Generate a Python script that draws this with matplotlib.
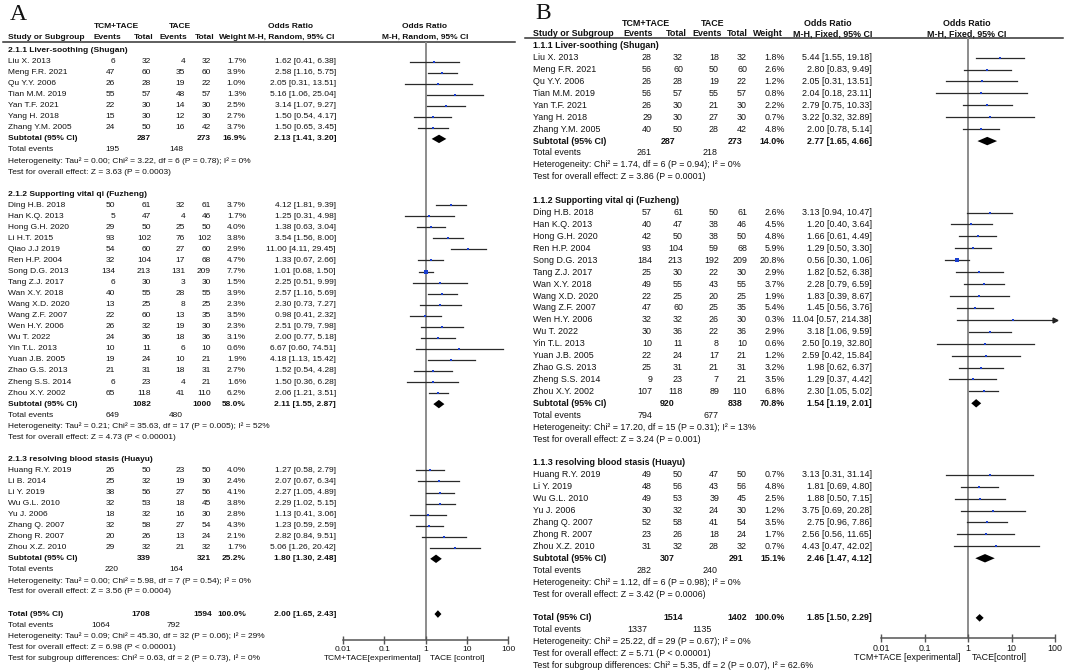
import numpy as np
import matplotlib
matplotlib.use('Agg')
import matplotlib.pyplot as plt
from matplotlib.ticker import NullLocator

W, H = 1065, 670
TXT = '#111111'
FONT = 'Liberation Sans'

# ---------------- panel A (M-H, Random) ----------------
a_groups = ['2.1.1 Liver-soothing (Shugan)', '2.1.2 Supporting vital qi (Fuzheng)',
            '2.1.3 resolving blood stasis (Huayu)']
a_sizes = [7, 18, 8]
a_study = ['Liu X. 2013', 'Meng F.R. 2021', 'Qu Y.Y. 2006', 'Tian M.M. 2019', 'Yan T.F. 2021',
           'Yang H. 2018', 'Zhang Y.M. 2005',
           'Ding H.B. 2018', 'Han K.Q. 2013', 'Hong G.H. 2020', 'Li H.T. 2015', 'Qiao J.J 2019',
           'Ren H.P. 2004', 'Song D.G. 2013', 'Tang Z.J. 2017', 'Wan X.Y. 2018', 'Wang X.D. 2020',
           'Wang Z.F. 2007', 'Wen H.Y. 2006', 'Wu T. 2022', 'Yin T.L. 2013', 'Yuan J.B. 2005',
           'Zhao G.S. 2013', 'Zheng S.S. 2014', 'Zhou X.Y. 2002',
           'Huang R.Y. 2019', 'Li B. 2014', 'Li Y. 2019', 'Wu G.L. 2010', 'Yu J. 2006',
           'Zhang Q. 2007', 'Zhong R. 2007', 'Zhou X.Z. 2010']
a_ev_t = [6, 47, 26, 55, 22, 15, 24,
          50, 5, 29, 93, 54, 32, 134, 6, 40, 13, 22, 26, 24, 10, 19, 21, 6, 65,
          26, 25, 38, 32, 18, 32, 20, 29]
a_n_t = [32, 60, 28, 57, 30, 30, 50,
         61, 47, 50, 102, 60, 104, 213, 30, 55, 25, 60, 32, 36, 11, 24, 31, 23, 118,
         50, 32, 56, 53, 32, 58, 26, 32]
a_ev_c = [4, 35, 19, 48, 14, 12, 16,
          32, 4, 25, 76, 27, 17, 131, 3, 28, 8, 13, 19, 18, 6, 10, 18, 4, 41,
          23, 19, 27, 18, 16, 27, 13, 21]
a_n_c = [32, 60, 22, 57, 30, 30, 42,
         61, 46, 50, 102, 60, 68, 209, 30, 55, 25, 35, 30, 36, 10, 21, 31, 21, 110,
         50, 30, 56, 45, 30, 54, 24, 32]
a_weight = [1.7, 3.9, 1.0, 1.3, 2.5, 2.7, 3.7,
            3.7, 1.7, 4.0, 3.8, 2.9, 4.7, 7.7, 1.5, 3.9, 2.3, 3.5, 2.3, 3.1, 0.6, 1.9, 2.7, 1.6, 6.2,
            4.0, 2.4, 4.1, 3.8, 2.8, 4.3, 2.1, 1.7]
a_or = [1.62, 2.58, 2.05, 5.16, 3.14, 1.50, 1.50,
        4.12, 1.25, 1.38, 3.54, 11.00, 1.33, 1.01, 2.25, 2.57, 2.30, 0.98, 2.51, 2.00, 6.67, 4.18,
        1.52, 1.50, 2.06,
        1.27, 2.07, 2.27, 2.29, 1.13, 1.23, 2.82, 5.06]
a_lo = [0.41, 1.16, 0.31, 1.06, 1.07, 0.54, 0.65,
        1.81, 0.31, 0.63, 1.56, 4.11, 0.67, 0.68, 0.51, 1.16, 0.73, 0.41, 0.79, 0.77, 0.60, 1.13,
        0.54, 0.36, 1.21,
        0.58, 0.67, 1.05, 1.02, 0.41, 0.59, 0.84, 1.26]
a_hi = [6.38, 5.75, 13.51, 25.04, 9.27, 4.17, 3.45,
        9.39, 4.98, 3.04, 8.00, 29.45, 2.66, 1.50, 9.99, 5.69, 7.27, 2.32, 7.98, 5.18, 74.51, 15.42,
        4.28, 6.28, 3.51,
        2.79, 6.34, 4.89, 5.15, 3.06, 2.59, 9.51, 20.42]
a_sub_n_t = [287, 1082, 339]
a_sub_n_c = [273, 1000, 321]
a_sub_weight = [16.9, 58.0, 25.2]
a_sub_or = [2.13, 2.11, 1.80]
a_sub_lo = [1.41, 1.55, 1.30]
a_sub_hi = [3.20, 2.87, 2.48]
a_sub_ev_t = [195, 649, 220]
a_sub_ev_c = [148, 480, 164]
a_het = ['Heterogeneity: Tau\u00b2 = 0.00; Chi\u00b2 = 3.22, df = 6 (P = 0.78); I\u00b2 = 0%',
         'Heterogeneity: Tau\u00b2 = 0.21; Chi\u00b2 = 35.63, df = 17 (P = 0.005); I\u00b2 = 52%',
         'Heterogeneity: Tau\u00b2 = 0.00; Chi\u00b2 = 5.98, df = 7 (P = 0.54); I\u00b2 = 0%']
a_test = ['Test for overall effect: Z = 3.63 (P = 0.0003)',
          'Test for overall effect: Z = 4.73 (P < 0.00001)',
          'Test for overall effect: Z = 3.56 (P = 0.0004)']
a_tot_n = [1708, 1594]
a_tot_est = [2.00, 1.65, 2.43]
a_tot_ev = [1064, 792]
a_tot_lines = ['Heterogeneity: Tau\u00b2 = 0.09; Chi\u00b2 = 45.30, df = 32 (P = 0.06); I\u00b2 = 29%',
               'Test for overall effect: Z = 6.98 (P < 0.00001)',
               'Test for subgroup differences: Chi\u00b2 = 0.63, df = 2 (P = 0.73), I\u00b2 = 0%']

# ---------------- panel B (M-H, Fixed) ----------------
b_groups = ['1.1.1 Liver-soothing (Shugan)', '1.1.2 Supporting vital qi (Fuzheng)',
            '1.1.3 resolving blood stasis (Huayu)']
b_sizes = [7, 16, 7]
b_study = ['Liu X. 2013', 'Meng F.R. 2021', 'Qu Y.Y. 2006', 'Tian M.M. 2019', 'Yan T.F. 2021',
           'Yang H. 2018', 'Zhang Y.M. 2005',
           'Ding H.B. 2018', 'Han K.Q. 2013', 'Hong G.H. 2020', 'Ren H.P. 2004', 'Song D.G. 2013',
           'Tang Z.J. 2017', 'Wan X.Y. 2018', 'Wang X.D. 2020', 'Wang Z.F. 2007', 'Wen H.Y. 2006',
           'Wu T. 2022', 'Yin T.L. 2013', 'Yuan J.B. 2005', 'Zhao G.S. 2013', 'Zheng S.S. 2014',
           'Zhou X.Y. 2002',
           'Huang R.Y. 2019', 'Li Y. 2019', 'Wu G.L. 2010', 'Yu J. 2006', 'Zhang Q. 2007',
           'Zhong R. 2007', 'Zhou X.Z. 2010']
b_ev_t = [28, 56, 26, 56, 26, 29, 40,
          57, 40, 42, 93, 184, 25, 49, 22, 47, 32, 30, 10, 22, 25, 9, 107,
          49, 48, 49, 30, 52, 23, 31]
b_n_t = [32, 60, 28, 57, 30, 30, 50,
         61, 47, 50, 104, 213, 30, 55, 25, 60, 32, 36, 11, 24, 31, 23, 118,
         50, 56, 53, 32, 58, 26, 32]
b_ev_c = [18, 50, 19, 55, 21, 27, 28,
          50, 38, 38, 59, 192, 22, 43, 20, 25, 26, 22, 8, 17, 21, 7, 89,
          47, 43, 39, 24, 41, 18, 28]
b_n_c = [32, 60, 22, 57, 30, 30, 42,
         61, 46, 50, 68, 209, 30, 55, 25, 35, 30, 36, 10, 21, 31, 21, 110,
         50, 56, 45, 30, 54, 24, 32]
b_weight = [1.8, 2.6, 1.2, 0.8, 2.2, 0.7, 4.8,
            2.6, 4.5, 4.8, 5.9, 20.8, 2.9, 3.7, 1.9, 5.4, 0.3, 2.9, 0.6, 1.2, 3.2, 3.5, 6.8,
            0.7, 4.8, 2.5, 1.2, 3.5, 1.7, 0.7]
b_or = [5.44, 2.80, 2.05, 2.04, 2.79, 3.22, 2.00,
        3.13, 1.20, 1.66, 1.29, 0.56, 1.82, 2.28, 1.83, 1.45, 11.04, 3.18, 2.50, 2.59, 1.98, 1.29,
        2.30,
        3.13, 1.81, 1.88, 3.75, 2.75, 2.56, 4.43]
b_lo = [1.55, 0.83, 0.31, 0.18, 0.75, 0.32, 0.78,
        0.94, 0.40, 0.61, 0.50, 0.30, 0.52, 0.79, 0.39, 0.56, 0.57, 1.06, 0.19, 0.42, 0.62, 0.37,
        1.05,
        0.31, 0.69, 0.50, 0.69, 0.96, 0.56, 0.47]
b_hi = [19.18, 9.49, 13.51, 23.11, 10.33, 32.89, 5.14,
        10.47, 3.64, 4.49, 3.30, 1.06, 6.38, 6.59, 8.67, 3.76, 214.38, 9.59, 32.80, 15.84, 6.37,
        4.42, 5.02,
        31.14, 4.80, 7.15, 20.28, 7.86, 11.65, 42.02]
b_sub_n_t = [287, 920, 307]
b_sub_n_c = [273, 838, 291]
b_sub_weight = [14.0, 70.8, 15.1]
b_sub_or = [2.77, 1.54, 2.46]
b_sub_lo = [1.65, 1.19, 1.47]
b_sub_hi = [4.66, 2.01, 4.12]
b_sub_ev_t = [261, 794, 282]
b_sub_ev_c = [218, 677, 240]
b_het = ['Heterogeneity: Chi\u00b2 = 1.74, df = 6 (P = 0.94); I\u00b2 = 0%',
         'Heterogeneity: Chi\u00b2 = 17.20, df = 15 (P = 0.31); I\u00b2 = 13%',
         'Heterogeneity: Chi\u00b2 = 1.12, df = 6 (P = 0.98); I\u00b2 = 0%']
b_test = ['Test for overall effect: Z = 3.86 (P = 0.0001)',
          'Test for overall effect: Z = 3.24 (P = 0.001)',
          'Test for overall effect: Z = 3.42 (P = 0.0006)']
b_tot_n = [1514, 1402]
b_tot_est = [1.85, 1.50, 2.29]
b_tot_ev = [1337, 1135]
b_tot_lines = ['Heterogeneity: Chi\u00b2 = 25.22, df = 29 (P = 0.67); I\u00b2 = 0%',
               'Test for overall effect: Z = 5.71 (P < 0.00001)',
               'Test for subgroup differences: Chi\u00b2 = 5.35, df = 2 (P = 0.07), I\u00b2 = 62.6%']

# ---------------- figure ----------------
fig = plt.figure(figsize=(W / 100, H / 100), dpi=100)
bg = fig.add_axes([0, 0, 1, 1])
bg.set_xlim(0, W)
bg.set_ylim(H, 0)
bg.axis('off')
renderer = fig.canvas.get_renderer()


def fit_size(s, width):
    # font size (pt) giving the text this pixel width
    t = bg.text(0, 0, s, fontsize=10, family=FONT)
    w = t.get_window_extent(renderer).width
    t.remove()
    return 10 * width / w


def fmt_ci(o, l, h):
    return f'{o:.2f} [{l:.2f}, {h:.2f}]'


def draw_panel(d, c):
    fs = c['fs']

    def T(x, y, s, ha='left', bold=False):
        bg.text(x, y, s, ha=ha, va='center', fontsize=fs, family=FONT,
                fontweight='bold' if bold else 'normal', color=TXT)

    bg.text(c['letter'][1], c['letter'][2], c['letter'][0], fontsize=17,
            family='Liberation Serif', ha='left', va='center', color=TXT)

    y1, y2 = c['head_y']
    for s, x in c['head1']:
        T(x, y1, s, 'center', True)
    T(8 + c['x0'], y2, 'Study or Subgroup', 'left', True)
    for s, x in c['head2']:
        T(x, y2, s, 'center', True)
    bg.plot(c['line'][:2], [c['line'][2]] * 2, color='#333333', lw=1.1)

    # forest axes, y data in pixel rows
    px0, px1 = c['axis_px']
    ytop, ybot = c['line'][2], c['axis_y']
    ax = fig.add_axes([px0 / W, 1 - ybot / H, (px1 - px0) / W, (ybot - ytop) / H])
    ax.set_xscale('log')
    ax.set_xlim(0.01, 100)
    ax.set_ylim(ybot, ytop)
    ax.set_facecolor('none')
    for sp in ['top', 'left', 'right']:
        ax.spines[sp].set_visible(False)
    ax.spines['bottom'].set_color('#555555')
    ax.spines['bottom'].set_linewidth(1.1)
    ax.set_yticks([])
    ax.set_xticks([0.01, 0.1, 1, 10, 100])
    ax.set_xticklabels(['0.01', '0.1', '1', '10', '100'], family=FONT, fontsize=fs, color=TXT)
    ax.xaxis.set_minor_locator(NullLocator())
    ax.tick_params(axis='x', direction='inout', length=6, width=1.0, color='#555555', pad=1)
    ax.plot([1, 1], [ytop, ybot], color='#8c8c8c', lw=1.4, zorder=1)
    bg.text(c['xlab'][0], c['xlab_y'], c['xlab_txt'][0], ha='right', va='center',
            fontsize=fs, family=FONT, color=TXT)
    bg.text(c['xlab'][1], c['xlab_y'], c['xlab_txt'][1], ha='left', va='center',
            fontsize=fs, family=FONT, color=TXT)

    def yrow(i):
        return c['row0'] + i * c['pitch']

    def diamond(o, l, h, y, hh=4.2):
        ax.fill([l, o, h, o], [y, y - hh, y, y + hh], color='black', lw=0, zorder=3)

    cx = c['cols']
    nx = 8 + c['x0']
    r, k = 0, 0
    for g in range(len(d['groups'])):
        T(nx, yrow(r), d['groups'][g], bold=True)
        r += 1
        for j in range(d['sizes'][g]):
            y = yrow(r)
            T(nx, y, d['study'][k])
            T(cx[0], y, str(d['ev_t'][k]), 'right')
            T(cx[1], y, str(d['n_t'][k]), 'right')
            T(cx[2], y, str(d['ev_c'][k]), 'right')
            T(cx[3], y, str(d['n_c'][k]), 'right')
            T(cx[4], y, f"{d['weight'][k]:.1f}%", 'right')
            T(cx[5], y, fmt_ci(d['or'][k], d['lo'][k], d['hi'][k]), 'right')
            hi = min(d['hi'][k], 100)
            ax.plot([d['lo'][k], hi], [y, y], color='#2a2a2a', lw=0.9, zorder=2, clip_on=False)
            if d['hi'][k] > 100:
                ax.plot(100, y, marker='>', ms=3.5, color='#222222', clip_on=False, zorder=3)
            side = (1.5 + 0.55 * np.sqrt(d['weight'][k])) * 0.72
            ax.scatter(d['or'][k], y, marker='s', s=side ** 2, color='#1a3fd0', lw=0,
                       zorder=4, clip_on=False)
            k += 1
            r += 1
        y = yrow(r)
        T(nx, y, 'Subtotal (95% CI)', bold=True)
        T(c['sub_cols'][0], y, str(d['sub_n_t'][g]), 'right', True)
        T(c['sub_cols'][1], y, str(d['sub_n_c'][g]), 'right', True)
        T(cx[4], y, f"{d['sub_weight'][g]:.1f}%", 'right', True)
        T(cx[5], y, fmt_ci(d['sub_or'][g], d['sub_lo'][g], d['sub_hi'][g]), 'right', True)
        diamond(d['sub_or'][g], d['sub_lo'][g], d['sub_hi'][g], y)
        r += 1
        T(nx, yrow(r), 'Total events')
        T(c['tev'][0], yrow(r), str(d['sub_ev_t'][g]), 'right')
        T(c['tev'][1], yrow(r), str(d['sub_ev_c'][g]), 'right')
        r += 1
        T(nx, yrow(r), d['het'][g])
        r += 1
        T(nx, yrow(r), d['test'][g])
        r += 2
    y = yrow(r)
    T(nx, y, 'Total (95% CI)', bold=True)
    T(c['tot_cols'][0], y, str(d['tot_n'][0]), 'right', True)
    T(c['tot_cols'][1], y, str(d['tot_n'][1]), 'right', True)
    T(cx[4], y, '100.0%', 'right', True)
    T(cx[5], y, fmt_ci(*d['tot_est']), 'right', True)
    diamond(*d['tot_est'], y, hh=3.8)
    r += 1
    T(nx, yrow(r), 'Total events')
    T(c['tev_all'][0], yrow(r), str(d['tot_ev'][0]), 'right')
    T(c['tev_all'][1], yrow(r), str(d['tot_ev'][1]), 'right')
    for s in d['tot_lines']:
        r += 1
        T(nx, yrow(r), s)


data_a = dict(groups=a_groups, sizes=a_sizes, study=a_study, ev_t=a_ev_t, n_t=a_n_t,
              ev_c=a_ev_c, n_c=a_n_c, weight=a_weight, lo=a_lo, hi=a_hi,
              sub_n_t=a_sub_n_t, sub_n_c=a_sub_n_c, sub_weight=a_sub_weight,
              sub_or=a_sub_or, sub_lo=a_sub_lo, sub_hi=a_sub_hi, sub_ev_t=a_sub_ev_t,
              sub_ev_c=a_sub_ev_c, het=a_het, test=a_test, tot_n=a_tot_n, tot_est=a_tot_est,
              tot_ev=a_tot_ev, tot_lines=a_tot_lines)
data_a['or'] = a_or
data_b = dict(groups=b_groups, sizes=b_sizes, study=b_study, ev_t=b_ev_t, n_t=b_n_t,
              ev_c=b_ev_c, n_c=b_n_c, weight=b_weight, lo=b_lo, hi=b_hi,
              sub_n_t=b_sub_n_t, sub_n_c=b_sub_n_c, sub_weight=b_sub_weight,
              sub_or=b_sub_or, sub_lo=b_sub_lo, sub_hi=b_sub_hi, sub_ev_t=b_sub_ev_t,
              sub_ev_c=b_sub_ev_c, het=b_het, test=b_test, tot_n=b_tot_n, tot_est=b_tot_est,
              tot_ev=b_tot_ev, tot_lines=b_tot_lines)
data_b['or'] = b_or

lay_a = dict(fs=fit_size(a_het[0], 243), x0=0, letter=('A', 10, 14.5), head_y=(26, 37.5),
             head1=[('TCM+TACE', 116), ('TACE', 180), ('Odds Ratio', 291), ('Odds Ratio', 425)],
             head2=[('Events', 107), ('Total', 144), ('Events', 173), ('Total', 205),
                    ('Weight', 233), ('M-H, Random, 95% CI', 291), ('M-H, Random, 95% CI', 425)],
             line=(3, 515, 42), cols=(115, 151, 185, 211, 246, 336), sub_cols=(151, 211),
             tot_cols=(150, 212), tev=(119, 183), tev_all=(110, 180),
             axis_px=(343, 508), axis_y=640, row0=50.5, pitch=11.05,
             xlab_y=658, xlab=(422, 430), xlab_txt=('TCM+TACE[experimental]', 'TACE [control]'))
lay_b = dict(fs=fit_size(b_het[0], 207), x0=525, letter=('B', 535, 13.5), head_y=(23, 34),
             head1=[('TCM+TACE', 646), ('TACE', 713), ('Odds Ratio', 828), ('Odds Ratio', 967)],
             head2=[('Events', 638), ('Total', 676), ('Events', 707), ('Total', 737),
                    ('Weight', 768), ('M-H, Fixed, 95% CI', 833), ('M-H, Fixed, 95% CI', 967)],
             line=(525, 1063, 38), cols=(652, 683, 719, 747, 785, 872), sub_cols=(675, 743),
             tot_cols=(683, 747), tev=(652, 718), tev_all=(647, 712),
             axis_px=(881, 1055), axis_y=638, row0=45.7, pitch=11.92,
             xlab_y=658, xlab=(960, 972), xlab_txt=('TCM+TACE [experimental]', 'TACE[control]'))

draw_panel(data_a, lay_a)
draw_panel(data_b, lay_b)

fig.savefig('out.png', dpi=100, facecolor='white')
